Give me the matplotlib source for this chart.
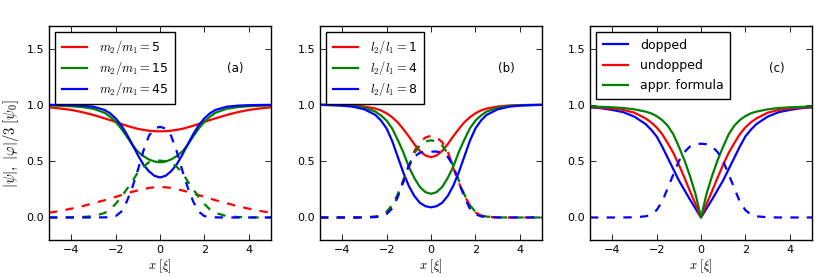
import matplotlib
matplotlib.use("Agg")
import matplotlib.pyplot as plt

# ---- data ----
x = [-5, -4.5, -4, -3.5, -3, -2.5, -2.25, -2, -1.75, -1.5, -1.25, -1, -0.75, -0.5, -0.25, 0,
     0.25, 0.5, 0.75, 1, 1.25, 1.5, 1.75, 2, 2.25, 2.5, 3, 3.5, 4, 4.5, 5]

# panel (a)
a_labels = [r'$m_2/m_1=$5', r'$m_2/m_1=$15', r'$m_2/m_1=$45']
a_psi_5 = [0.978,0.968,0.955,0.935,0.91,0.88,0.865,0.848,0.83,0.815,0.80,0.787,0.778,0.77,0.766,0.765,
           0.766,0.77,0.778,0.787,0.80,0.815,0.83,0.848,0.865,0.88,0.91,0.935,0.955,0.968,0.978]
a_psi_15 = [0.995,0.992,0.988,0.98,0.965,0.93,0.895,0.85,0.79,0.72,0.645,0.585,0.545,0.515,0.497,0.49,
            0.497,0.515,0.545,0.585,0.645,0.72,0.79,0.85,0.895,0.93,0.965,0.98,0.988,0.992,0.995]
a_psi_45 = [1.0,0.999,0.997,0.993,0.983,0.955,0.925,0.88,0.82,0.74,0.65,0.555,0.47,0.41,0.37,0.355,
            0.37,0.41,0.47,0.555,0.65,0.74,0.82,0.88,0.925,0.955,0.983,0.993,0.997,0.999,1.0]
a_phi_5 = [0.042,0.058,0.078,0.10,0.127,0.153,0.168,0.183,0.198,0.213,0.228,0.24,0.252,0.262,0.268,0.27,
           0.268,0.262,0.252,0.24,0.228,0.213,0.198,0.183,0.168,0.153,0.127,0.10,0.078,0.058,0.042]
a_phi_15 = [0.0,0.0,0.001,0.004,0.012,0.04,0.07,0.12,0.18,0.25,0.32,0.40,0.45,0.49,0.50,0.505,
            0.50,0.49,0.45,0.40,0.32,0.25,0.18,0.12,0.07,0.04,0.012,0.004,0.001,0.0,0.0]
a_phi_45 = [0,0,0,0,0,0.001,0.004,0.012,0.05,0.14,0.265,0.42,0.59,0.725,0.79,0.805,
            0.79,0.725,0.59,0.42,0.265,0.14,0.05,0.012,0.004,0.001,0,0,0,0,0]

# panel (b)
b_labels = [r'$l_2/l_1=$1', r'$l_2/l_1=$4', r'$l_2/l_1=$8']
b_psi_1 = [1.0,0.999,0.998,0.994,0.985,0.967,0.95,0.925,0.89,0.845,0.785,0.72,0.65,0.59,0.55,0.535,
           0.55,0.59,0.65,0.72,0.785,0.845,0.89,0.925,0.95,0.967,0.985,0.994,0.998,0.999,1.0]
b_psi_4 = [1.0,0.999,0.996,0.99,0.975,0.94,0.905,0.86,0.79,0.69,0.58,0.45,0.35,0.27,0.225,0.21,
           0.225,0.27,0.35,0.45,0.58,0.69,0.79,0.86,0.905,0.94,0.975,0.99,0.996,0.999,1.0]
b_psi_8 = [1.0,0.997,0.993,0.983,0.96,0.91,0.86,0.79,0.68,0.54,0.40,0.28,0.19,0.13,0.10,0.09,
           0.10,0.13,0.19,0.28,0.40,0.54,0.68,0.79,0.86,0.91,0.96,0.983,0.993,0.997,1.0]
b_phi_1 = [0,0,0,0,0.001,0.007,0.018,0.045,0.11,0.195,0.31,0.44,0.59,0.67,0.71,0.725,
           0.71,0.67,0.59,0.44,0.31,0.195,0.11,0.045,0.018,0.007,0.001,0,0,0,0]
b_phi_4 = [0,0,0,0,0.001,0.008,0.02,0.05,0.11,0.205,0.33,0.46,0.57,0.64,0.675,0.685,
           0.675,0.64,0.57,0.46,0.33,0.205,0.11,0.05,0.02,0.008,0.001,0,0,0,0]
b_phi_8 = [0,0,0,0,0,0.003,0.01,0.03,0.08,0.18,0.32,0.46,0.54,0.575,0.585,0.585,
           0.585,0.575,0.54,0.46,0.32,0.18,0.08,0.03,0.01,0.003,0,0,0,0,0]

# panel (c)
c_labels = ['dopped', 'undopped', 'appr. formula']
c_dopped = [0.978,0.97,0.955,0.935,0.895,0.83,0.78,0.72,0.63,0.53,0.43,0.33,0.245,0.16,0.08,0,
            0.08,0.16,0.245,0.33,0.43,0.53,0.63,0.72,0.78,0.83,0.895,0.935,0.955,0.97,0.978]
c_undopped = [0.98,0.975,0.968,0.955,0.93,0.88,0.845,0.80,0.74,0.66,0.575,0.47,0.355,0.235,0.12,0,
              0.12,0.235,0.355,0.47,0.575,0.66,0.74,0.80,0.845,0.88,0.93,0.955,0.968,0.975,0.98]
c_formula = [0.985,0.982,0.978,0.972,0.96,0.94,0.925,0.90,0.865,0.815,0.74,0.63,0.51,0.37,0.21,0,
             0.21,0.37,0.51,0.63,0.74,0.815,0.865,0.90,0.925,0.94,0.96,0.972,0.978,0.982,0.985]
c_phi = [0,0,0,0,0.002,0.01,0.025,0.065,0.14,0.26,0.38,0.50,0.58,0.63,0.65,0.655,
         0.65,0.63,0.58,0.50,0.38,0.26,0.14,0.065,0.025,0.01,0.002,0,0,0,0]

xticks = [-4, -2, 0, 2, 4]
yticks = [0.0, 0.5, 1.0, 1.5]
panel_tags = ['(a)', '(b)', '(c)']

# ---- style ----
plt.rcParams.update({
    'font.family': ['DejaVu Sans'],
    'mathtext.fontset': 'cm',
    'xtick.direction': 'in', 'ytick.direction': 'in',
    'xtick.top': True, 'ytick.right': True,
    'xtick.major.size': 4, 'ytick.major.size': 4,
    'xtick.major.width': 0.6, 'ytick.major.width': 0.6,
    'xtick.labelsize': 8, 'ytick.labelsize': 8,
    'axes.linewidth': 1.0,
    'lines.scale_dashes': False,
    'lines.dashed_pattern': [6, 6],
    'legend.fancybox': False,
    'legend.framealpha': 1.0,
    'legend.edgecolor': 'black',
    'legend.fontsize': 9,
})

W, H = 8.3, 2.77
fig = plt.figure(figsize=(W, H), dpi=100)
lefts = [49 / 830, 320 / 830, 590 / 830]
bottom = 1 - 240 / 277
height = (240 - 26) / 277
width = 222 / 830
lw = 1.6

axes = [fig.add_axes([l, bottom, width, height]) for l in lefts]

# (a)
ax = axes[0]
for y, c, lab in zip([a_psi_5, a_psi_15, a_psi_45], ['r', 'g', 'b'], a_labels):
    ax.plot(x, y, color=c, lw=lw, label=lab)
for y, c in zip([a_phi_5, a_phi_15, a_phi_45], ['r', 'g', 'b']):
    ax.plot(x, y, color=c, lw=lw, ls='--')

# (b)
ax = axes[1]
for y, c, lab in zip([b_psi_1, b_psi_4, b_psi_8], ['r', 'g', 'b'], b_labels):
    ax.plot(x, y, color=c, lw=lw, label=lab)
for y, c in zip([b_phi_1, b_phi_4, b_phi_8], ['r', 'g', 'b']):
    ax.plot(x, y, color=c, lw=lw, ls='--')

# (c)
ax = axes[2]
for y, c, lab in zip([c_dopped, c_undopped, c_formula], ['b', 'r', 'g'], c_labels):
    ax.plot(x, y, color=c, lw=lw, label=lab)
ax.plot(x, c_phi, color='b', lw=lw, ls='--')

spacings = [0.22, 0.22, 0.6]
for i, ax in enumerate(axes):
    ax.set_xlim(-5, 5)
    ax.set_ylim(-0.2, 1.7)
    ax.set_xticks(xticks)
    ax.set_yticks(yticks)
    ax.set_xlabel(r'$x\ [\xi]$', fontsize=9, labelpad=2)
    ax.text(3.4, 1.32, panel_tags[i], fontsize=8.5, ha='center', va='center')
    leg = ax.legend(loc='upper left', borderaxespad=0.5, handlelength=2.0,
                    labelspacing=spacings[i], handletextpad=1.0, borderpad=0.5)
    leg.get_frame().set_linewidth(1.0)

axes[0].set_ylabel(r'$|\psi|,\ |\varphi|/3\ [\psi_0]$', fontsize=10.5)
axes[0].yaxis.set_label_coords(-0.125, 0.45)

fig.savefig('out.png', dpi=100, facecolor='white')
